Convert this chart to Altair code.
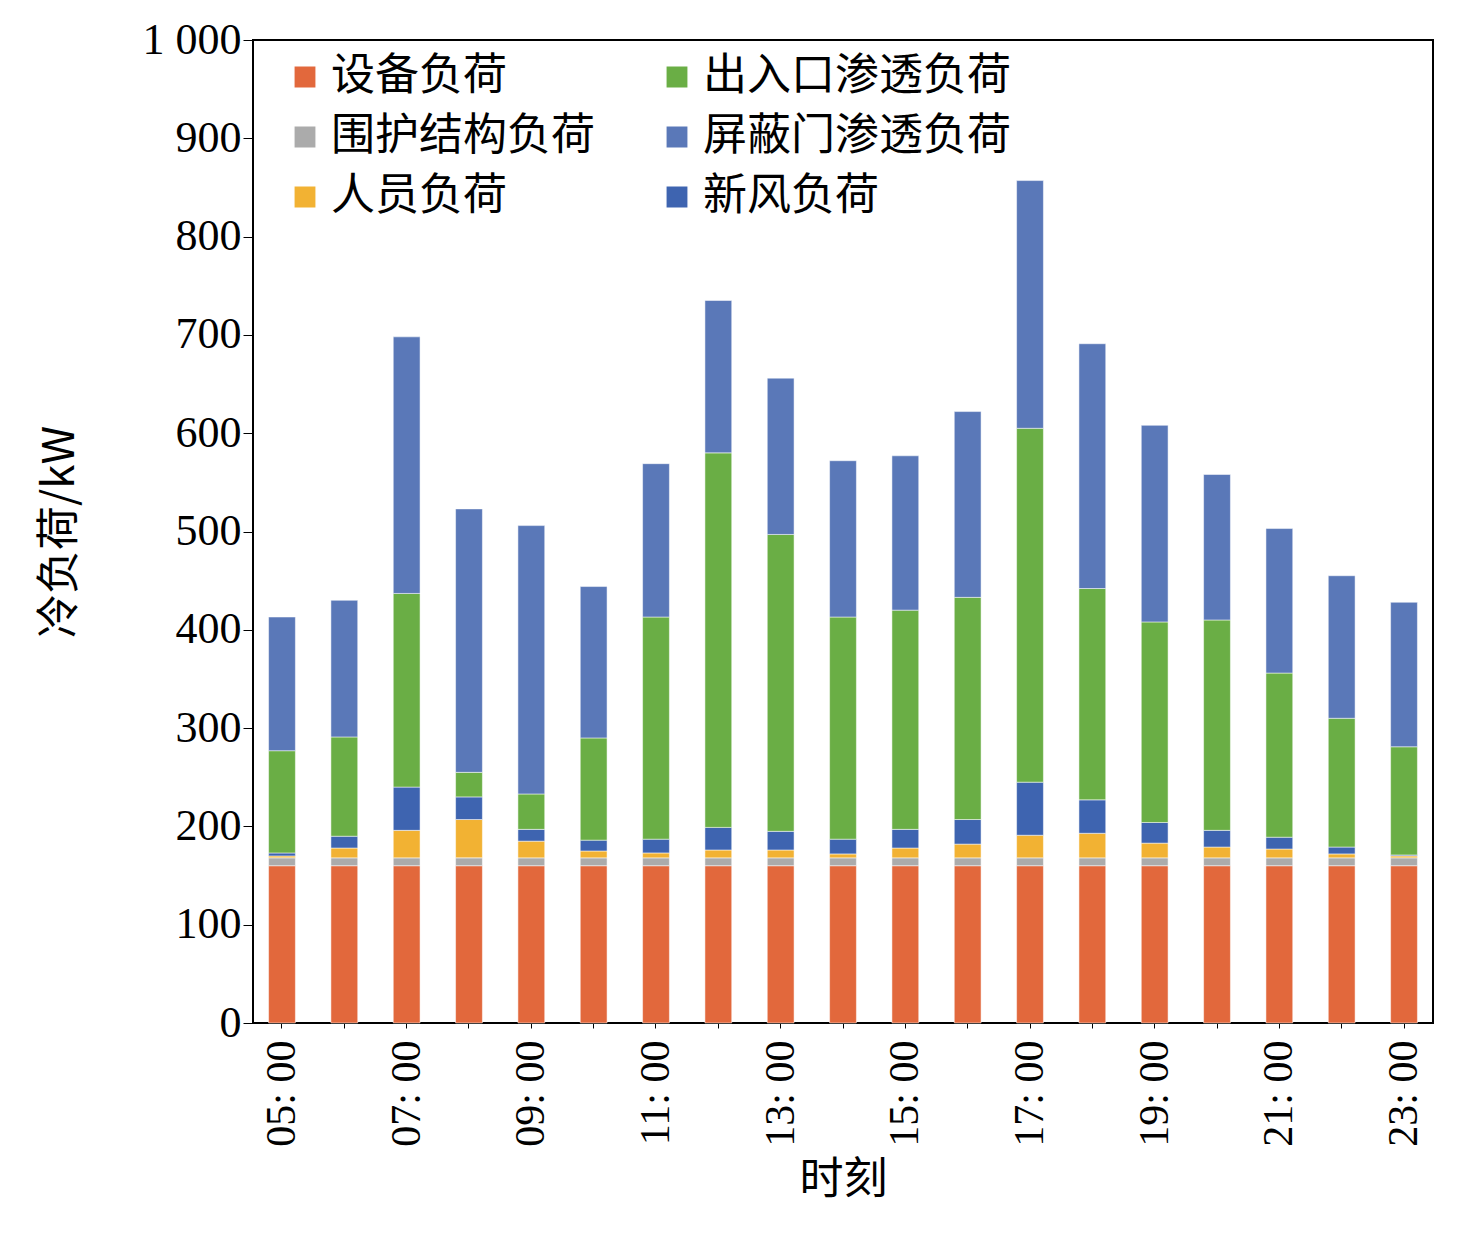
import altair as alt
import pandas as pd

hours = [f"{h:02d}:00" for h in range(5, 24)]
series = ["设备负荷", "围护结构负荷", "人员负荷", "新风负荷", "出入口渗透负荷", "屏蔽门渗透负荷"]

equip = [160] * 19
envelope = [8] * 19
people_top = [170, 178, 196, 207, 185, 175, 173, 176, 176, 172, 178, 182, 191, 193, 183, 179, 177, 172, 170]
fresh_top = [173, 190, 240, 230, 197, 186, 187, 199, 195, 187, 197, 207, 245, 227, 204, 196, 189, 179, 171]
entrance_top = [277, 291, 437, 255, 233, 290, 413, 580, 497, 413, 420, 433, 605, 442, 408, 410, 356, 310, 281]
total = [413, 430, 698, 523, 506, 444, 569, 735, 656, 572, 577, 622, 857, 691, 608, 558, 503, 455, 428]

rows = []
for i, h in enumerate(hours):
    base = equip[i] + envelope[i]
    vals = [equip[i], envelope[i], people_top[i] - base, fresh_top[i] - people_top[i],
            entrance_top[i] - fresh_top[i], total[i] - entrance_top[i]]
    for k, (s, v) in enumerate(zip(series, vals)):
        rows.append({"时刻": h, "类别": s, "负荷": v, "序": k})
df = pd.DataFrame(rows)

# legend fills column by column
legend_order = ["设备负荷", "围护结构负荷", "人员负荷", "出入口渗透负荷", "屏蔽门渗透负荷", "新风负荷"]
legend_colors = ["#E2683C", "#ABABAB", "#F2B233", "#6AAE45", "#5A78B8", "#3E64B0"]

serif = "Liberation Serif"
cjk = "Noto Sans CJK SC"

chart = alt.Chart(df).mark_bar(stroke="white", strokeWidth=0.5).encode(
    x=alt.X("时刻:N", sort=hours, scale=alt.Scale(paddingInner=0.57, paddingOuter=0.25),
            axis=alt.Axis(title="时刻", titleFont=cjk, titleFontSize=44, titleFontWeight="normal",
                          labelFont=serif, labelFontSize=42, labelAngle=270, labelColor="black",
                          labelExpr="indexof(['05:00','07:00','09:00','11:00','13:00','15:00','17:00','19:00','21:00','23:00'], datum.value) >= 0 ? replace(datum.value, ':', ': ') : ''",
                          tickColor="black", domainColor="black", labelPadding=12, titlePadding=12)),
    y=alt.Y("负荷:Q", scale=alt.Scale(domain=[0, 1000]),
            axis=alt.Axis(title="冷负荷/kW", titleFont=cjk, titleFontSize=44, titleFontWeight="normal",
                          labelFont=serif, labelFontSize=44, labelColor="black", values=list(range(0, 1001, 100)),
                          labelExpr="datum.value == 1000 ? '1 000' : datum.label", grid=False,
                          tickColor="black", domainColor="black", tickSize=10, titlePadding=60)),
    color=alt.Color("类别:N", scale=alt.Scale(domain=legend_order, range=legend_colors),
                    legend=alt.Legend(title=None, orient="none", legendX=30, legendY=15, columns=2,
                                      labelFont=cjk, labelFontSize=44, symbolType="square", symbolSize=500,
                                      columnPadding=60, rowPadding=16, labelLimit=600)),
    order=alt.Order("序:Q"),
).properties(width=1180, height=983, padding={"left": 30, "top": 10, "right": 5, "bottom": 5}
).configure_view(stroke="black", strokeWidth=2)

chart.save("out.html", embed_options={"renderer": "svg", "actions": False})
